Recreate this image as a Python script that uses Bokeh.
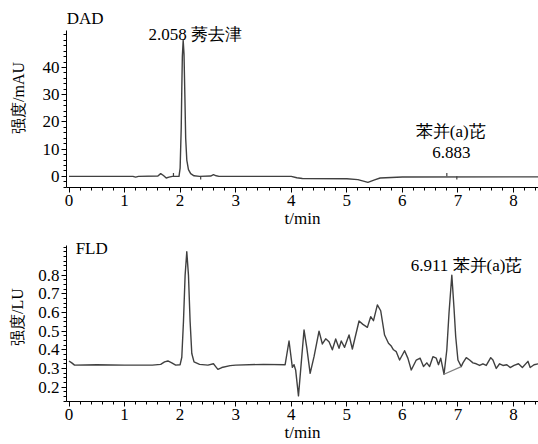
from bokeh.plotting import figure
from bokeh.layouts import column
from bokeh.models import Range1d, SingleIntervalTicker, FixedTicker, Label
from bokeh.embed import file_html
from bokeh.resources import INLINE

# ---- data ----
dad_t = [0.0, 1.15, 1.2, 1.25, 1.6, 1.65, 1.7, 1.75, 1.8, 1.86, 1.98, 2.0, 2.02, 2.03, 2.04,
         2.055, 2.07, 2.085, 2.1, 2.12, 2.15, 2.19, 2.25, 2.35, 2.55, 2.6, 2.65, 2.7, 4.0,
         4.1, 4.2, 5.0, 5.2, 5.38, 5.5, 5.6, 5.8, 6.0, 8.45]
dad_v = [0.0, 0.0, -0.3, 0.0, 0.1, 1.0, 0.3, -0.6, -0.3, 0.0, 0.0, 3.0, 18.0, 32.0, 44.0,
         50.0, 45.0, 30.0, 14.0, 6.0, 2.5, 1.0, 0.2, 0.0, 0.1, 0.6, 0.2, 0.0, 0.0,
         -0.5, -0.8, -0.9, -1.2, -2.2, -1.3, -0.6, -0.4, -0.25, -0.2]
dad_mark_t = [1.88, 2.37, 6.80, 6.98]
dad_mark_h = [1.2, -1.2, 1.2, -1.2]

fld_t = [0.0, 0.05, 0.1, 0.5, 1.0, 1.5, 1.65, 1.72, 1.78, 1.85, 1.92, 2.0, 2.03, 2.06, 2.09,
         2.12, 2.15, 2.18, 2.21, 2.25, 2.35, 2.5, 2.6, 2.64, 2.68, 2.75, 2.9, 3.0, 3.5, 3.89,
         3.96, 4.02, 4.05, 4.08, 4.13, 4.18, 4.23, 4.28, 4.34, 4.41, 4.50, 4.56, 4.62, 4.68,
         4.74, 4.80, 4.86, 4.90, 4.96, 5.04, 5.10, 5.22, 5.29, 5.37, 5.43, 5.48, 5.55, 5.61,
         5.68, 5.75, 5.80, 5.84, 5.89, 5.95, 6.04, 6.10, 6.16, 6.25, 6.32, 6.38, 6.44, 6.49,
         6.55, 6.61, 6.65, 6.69, 6.75, 6.80, 6.84, 6.89, 6.93, 6.96, 7.00, 7.06, 7.09, 7.15,
         7.21, 7.27, 7.33, 7.39, 7.45, 7.51, 7.59, 7.63, 7.69, 7.75, 7.81, 7.88, 7.94, 8.01,
         8.09, 8.16, 8.26, 8.30, 8.37, 8.45]
fld_v = [0.34, 0.33, 0.318, 0.32, 0.318, 0.318, 0.322, 0.335, 0.34, 0.33, 0.318, 0.32, 0.36,
         0.55, 0.80, 0.925, 0.80, 0.55, 0.38, 0.335, 0.322, 0.318, 0.325, 0.31, 0.295, 0.305,
         0.315, 0.318, 0.322, 0.32, 0.447, 0.306, 0.32, 0.29, 0.153, 0.33, 0.506, 0.41, 0.274,
         0.363, 0.50, 0.431, 0.459, 0.443, 0.40, 0.458, 0.408, 0.447, 0.413, 0.479, 0.404,
         0.554, 0.536, 0.52, 0.577, 0.556, 0.64, 0.609, 0.479, 0.435, 0.42, 0.40, 0.39, 0.345,
         0.395, 0.354, 0.292, 0.345, 0.355, 0.31, 0.33, 0.31, 0.363, 0.355, 0.32, 0.355, 0.269,
         0.40, 0.60, 0.80, 0.62, 0.47, 0.345, 0.31, 0.33, 0.358, 0.345, 0.33, 0.325, 0.316,
         0.325, 0.316, 0.358, 0.345, 0.30, 0.325, 0.316, 0.32, 0.305, 0.316, 0.325, 0.305,
         0.338, 0.305, 0.32, 0.325]
fld_base_t = [6.75, 7.06]
fld_base_v = [0.269, 0.31]

dad_major = [0, 10, 20, 30, 40]
dad_minor = [-4, -2, 2, 4, 6, 8, 12, 14, 16, 18, 22, 24, 26, 28, 32, 34, 36, 38,
             42, 44, 46, 48, 50, 52]
fld_major = [0.2, 0.3, 0.4, 0.5, 0.6, 0.7, 0.8]
fld_minor = [0.125, 0.15, 0.175, 0.225, 0.25, 0.275, 0.325, 0.35, 0.375, 0.425, 0.45,
             0.475, 0.525, 0.55, 0.575, 0.625, 0.65, 0.675, 0.725, 0.75, 0.775, 0.825,
             0.85, 0.875, 0.9, 0.925, 0.95]

x_title = "t/min"
dad_ylabel = "强度/mAU"
fld_ylabel = "强度/LU"
dad_peak1 = "2.058 莠去津"
dad_peak2_name = "苯并(a)芘"
dad_peak2_rt = "6.883"
fld_peak = "6.911 苯并(a)芘"

FONT = "Times New Roman"
LINE = "#404040"


def style(p, major, minor, ybounds, ylabel, ylabel_standoff):
    p.xaxis.ticker = SingleIntervalTicker(interval=1, num_minor_ticks=5)
    p.yaxis.ticker = FixedTicker(ticks=major, minor_ticks=minor)
    p.yaxis.bounds = ybounds
    for ax in (p.xaxis[0], p.yaxis[0]):
        ax.major_label_text_font = FONT
        ax.major_label_text_font_size = "17px"
        ax.major_label_text_color = "black"
        ax.axis_line_color = "black"
        ax.major_tick_line_color = "black"
        ax.minor_tick_line_color = "black"
        ax.major_tick_in = 0
        ax.major_tick_out = 5
        ax.minor_tick_in = 0
        ax.minor_tick_out = 3
        ax.major_label_standoff = 2
    p.yaxis.axis_label = ylabel
    p.yaxis.axis_label_text_font = FONT
    p.yaxis.axis_label_text_font_size = "16px"
    p.yaxis.axis_label_text_font_style = "normal"
    p.yaxis.axis_label_text_color = "black"
    p.yaxis.axis_label_standoff = ylabel_standoff
    p.xaxis.axis_label = x_title
    p.xaxis.axis_label_text_font = FONT
    p.xaxis.axis_label_text_font_size = "17px"
    p.xaxis.axis_label_text_font_style = "normal"
    p.xaxis.axis_label_text_color = "black"
    p.xaxis.axis_label_standoff = 0
    p.xgrid.visible = False
    p.ygrid.visible = False
    p.outline_line_color = None
    p.background_fill_color = "white"
    p.border_fill_color = "white"


def lab(p, x, y, text, align="left"):
    p.add_layout(Label(x=x, y=y, text=text, text_font=FONT, text_font_size="17px",
                       text_align=align, text_baseline="middle", text_color="black"))


# ---- top panel (DAD) ----
p1 = figure(width=538, height=230, x_range=Range1d(-0.045, 8.45), y_range=Range1d(-4.1, 61.7),
            output_backend="svg", toolbar_location=None, title=None,
            min_border_left=66, min_border_right=0, min_border_top=8, min_border_bottom=42)
style(p1, dad_major, dad_minor, (-4.1, 53.6), dad_ylabel, 13)
p1.line(dad_t, dad_v, line_color=LINE, line_width=1.4, line_join="round")
p1.segment(x0=dad_mark_t, y0=[0] * len(dad_mark_t), x1=dad_mark_t, y1=dad_mark_h,
           line_color=LINE, line_width=1.2)
lab(p1, -0.04, 58.2, "DAD")
lab(p1, 1.43, 52.0, dad_peak1)
lab(p1, 6.87, 16.4, dad_peak2_name, align="center")
lab(p1, 6.88, 8.7, dad_peak2_rt, align="center")

# ---- bottom panel (FLD) ----
p2 = figure(width=538, height=214, x_range=Range1d(-0.045, 8.45), y_range=Range1d(0.123, 1.028),
            output_backend="svg", toolbar_location=None, title=None,
            min_border_left=66, min_border_right=0, min_border_top=2, min_border_bottom=41)
style(p2, fld_major, fld_minor, (0.123, 0.959), fld_ylabel, 9)
p2.line(fld_t, fld_v, line_color=LINE, line_width=1.4, line_join="round")
p2.line(fld_base_t, fld_base_v, line_color="#808080", line_width=1.2)
lab(p2, 0.12, 0.944, "FLD")
lab(p2, 6.15, 0.853, fld_peak)

layout = column(p1, p2, spacing=0)
open("out.html", "w").write(file_html(layout, INLINE))
